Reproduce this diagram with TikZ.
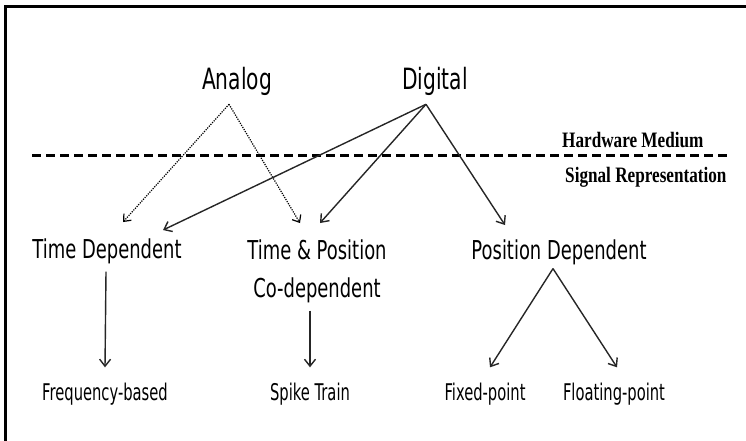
\documentclass[tikz,border=0pt]{standalone}
\usepackage{fontspec}
\usepackage{xcolor}
\usepackage{tikz}
\usetikzlibrary{arrows.meta,positioning}
\newfontfamily\diagfont[FakeStretch=0.69]{DejaVu Sans}
\newfontfamily\leaffont[FakeStretch=0.64]{DejaVu Sans}
\newfontfamily\layerfont[FakeStretch=0.78]{Liberation Serif}
\tikzset{
  toplabel/.style={
    anchor=base,
    inner xsep=0pt,
    inner ysep=8pt,
    font=\diagfont\fontsize{29.3}{34}\selectfont
  },
  midlabel/.style={
    anchor=base,
    inner xsep=0pt,
    inner ysep=8pt,
    align=center,
    font=\diagfont\fontsize{26}{38}\selectfont
  },
  leaflabel/.style={
    anchor=base,
    inner xsep=0pt,
    inner ysep=15pt,
    font=\leaffont\fontsize{23}{27}\selectfont
  },
  layerlabel/.style={
    anchor=base west,
    inner sep=0pt,
    font=\layerfont\bfseries\fontsize{22}{26}\selectfont
  },
  flow/.style={-{Straight Barb[length=7pt,width=11pt]}, line width=1.4pt, black!85},
  dotflow/.style={-{Straight Barb[length=6pt,width=10pt]}, dash pattern=on 1.2pt off 1.2pt, line width=1.2pt, black},
  sepline/.style={line width=3pt, dash pattern=on 9pt off 5pt},
  frame/.style={line width=3pt}
}
\begin{document}
\begin{tikzpicture}[x=1pt,y=-1pt]
\useasboundingbox (0,0) rectangle (746,441);
\draw[frame] (5.5,441) -- (5.5,6.5) -- (746,6.5);
% hardware medium
\node[toplabel] (analog) at (237,90) {Analog};
\node[toplabel] (digital) at (435,90) {Digital};
\node[layerlabel] (hwmedium) at (562,147) {Hardware Medium};
\node[layerlabel] (sigrep) at (565,182) {Signal Representation};
\draw[sepline] (32,155) -- (728,155);
% signal representation
\node[midlabel] (timedep) at (107,258) {Time Dependent};
\node[midlabel] (timepos) at (317,297) {Time \& Position\\Co-dependent};
\node[midlabel] (posdep) at (559,259) {Position Dependent};
\node[leaflabel] (freq) at (105,400) {Frequency-based};
\node[leaflabel] (spike) at (310,400) {Spike Train};
\node[leaflabel] (fixed) at (485,400) {Fixed-point};
\node[leaflabel] (floating) at (614,400) {Floating-point};
\draw[dotflow] ([xshift=-8pt]analog.south) -- ([xshift=16pt,yshift=8pt]timedep.north);
\draw[dotflow] ([xshift=-8pt]analog.south) -- ([xshift=-17pt,yshift=8pt]timepos.north);
\draw[flow] ([xshift=-9pt]digital.south) -- ([xshift=56pt]timedep.north);
\draw[flow] ([xshift=-9pt]digital.south) -- ([xshift=3pt,yshift=8pt]timepos.north);
\draw[flow] ([xshift=-9pt]digital.south) -- ([xshift=-54pt,yshift=6pt]posdep.north);
\draw[flow] ([xshift=-1pt]timedep.south) -- (freq.north);
\draw[flow] ([xshift=-7pt]timepos.south) -- (spike.north);
\draw[flow] ([xshift=-6pt,yshift=4pt]posdep.south) -- ([xshift=5pt]fixed.north);
\draw[flow] ([xshift=-6pt,yshift=4pt]posdep.south) -- ([xshift=3pt]floating.north);
\end{tikzpicture}
\end{document}
